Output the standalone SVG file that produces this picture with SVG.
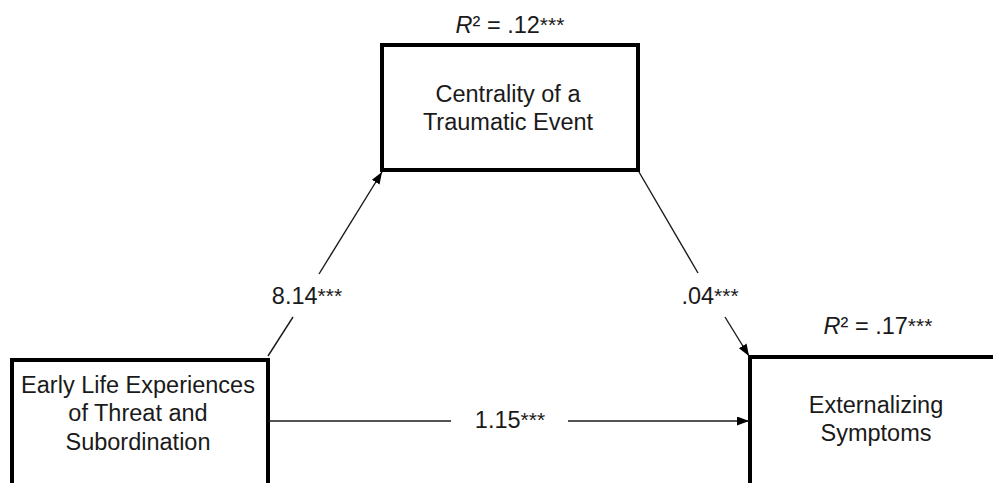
<svg xmlns="http://www.w3.org/2000/svg" width="993" height="483" viewBox="0 0 993 483">
<style>
.box{fill:#fff;stroke:#000;stroke-width:4}
.lbl{font-family:"Liberation Sans",Arial,sans-serif;font-size:23.5px;fill:#1a1a1a;text-anchor:middle}
.edge{stroke:#1a1a1a;stroke-width:1.4;fill:none}
.st{font-size:21px}
</style>
<defs>
<marker id="ah" markerUnits="userSpaceOnUse" markerWidth="13" markerHeight="10" refX="12" refY="4.5" orient="auto">
<path d="M0,0 L12,4.5 L0,9 z" fill="#000"/>
</marker>
</defs>
<rect width="993" height="483" fill="#fff"/>
<g id="node-centrality">
<rect class="box" x="382" y="45" width="256" height="125"/>
<text class="lbl" x="508" y="102">Centrality of a</text>
<text class="lbl" x="508" y="130">Traumatic Event</text>
<text class="lbl" x="510" y="33"><tspan font-style="italic">R</tspan>² = .12<tspan class="st" dy="-1">***</tspan></text>
</g>
<g id="node-early">
<rect class="box" x="12" y="360" width="256" height="140"/>
<text class="lbl" x="138" y="393">Early Life Experiences</text>
<text class="lbl" x="138" y="421">of Threat and</text>
<text class="lbl" x="138" y="450">Subordination</text>
</g>
<g id="node-externalizing">
<rect class="box" x="750" y="357" width="260" height="140"/>
<text class="lbl" x="876" y="413">Externalizing</text>
<text class="lbl" x="876" y="441">Symptoms</text>
<text class="lbl" x="878" y="334"><tspan font-style="italic">R</tspan>² = .17<tspan class="st" dy="-1">***</tspan></text>
</g>
<g id="connectors">
<line class="edge" x1="268" y1="356" x2="293" y2="317"/>
<line class="edge" x1="319" y1="274" x2="382" y2="172" marker-end="url(#ah)"/>
<text class="lbl" x="307" y="304">8.14<tspan class="st" dy="-1">***</tspan></text>
<line class="edge" x1="639" y1="172" x2="698" y2="273"/>
<line class="edge" x1="725" y1="317" x2="749" y2="356" marker-end="url(#ah)"/>
<text class="lbl" x="710" y="304">.04<tspan class="st" dy="-1">***</tspan></text>
<line class="edge" x1="268" y1="421" x2="451" y2="421"/>
<line class="edge" x1="568" y1="421" x2="749" y2="421" marker-end="url(#ah)"/>
<text class="lbl" x="510" y="428">1.15<tspan class="st" dy="-1">***</tspan></text>
</g>
</svg>
